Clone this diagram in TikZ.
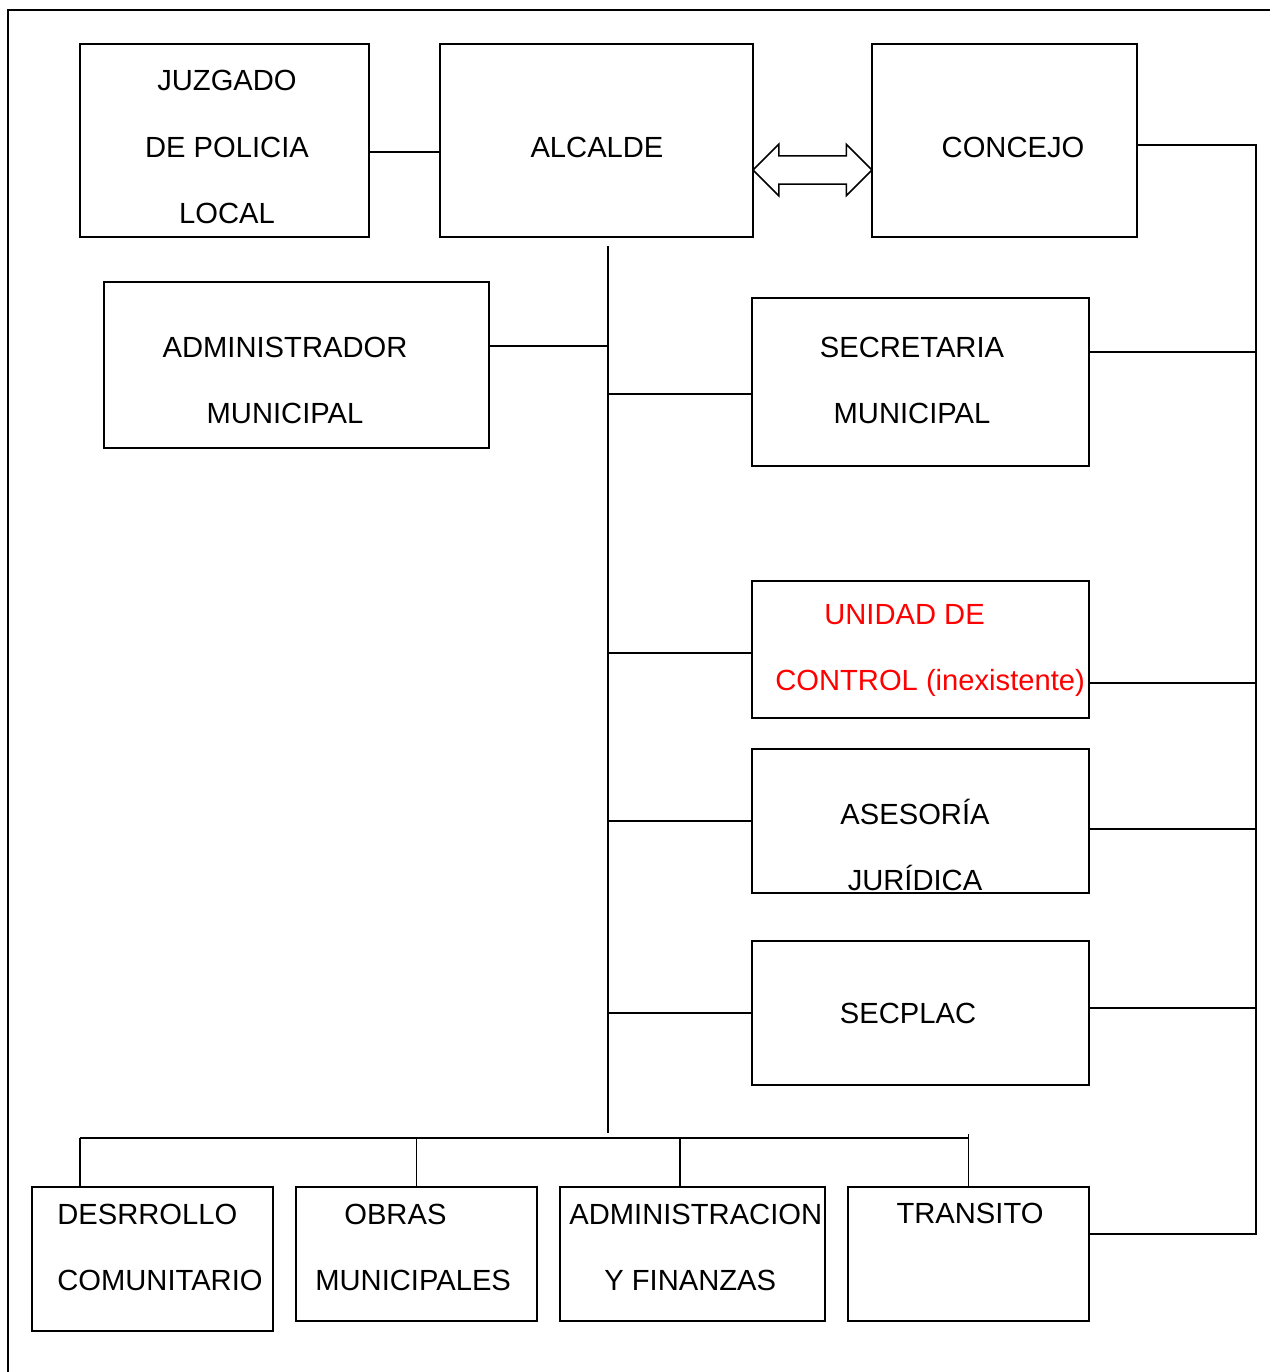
\documentclass[tikz,border=0pt]{standalone}
\usepackage{fontspec}
\setmainfont{Liberation Sans}
\usepackage{tikz}
\usepackage{xcolor}
\usetikzlibrary{shapes.arrows, fit}
\definecolor{inexred}{RGB}{255, 0, 0}
\tikzstyle{unit} = [rectangle, draw=black, line width=0.85pt, inner sep=0pt]
\tikzstyle{unittext} = [align=center, inner sep=0pt, font=\fontsize{16.6pt}{37.6pt}\selectfont]
\tikzstyle{orgline} = [line width=0.85pt]

\begin{document}
\begin{tikzpicture}[x=0.02cm, y=-0.02cm]
\useasboundingbox (0,0) rectangle (1270,1372);

% frame (open at right and bottom)
\draw [orgline] (8,1372) -- (8,10) -- (1270,10);

% top row
\node (juzgado) [unit, fit={(80,44) (369,237)}] {};
\node (alcalde) [unit, fit={(440,44) (753,237)}] {};
\node (concejo) [unit, fit={(872,44) (1137,237)}] {};
\node (juzgadoT) [unittext] at (227,147) {JUZGADO\\DE POLICIA\\LOCAL};
\node (alcaldeT) [unittext] at (597,147) {ALCALDE};
\node (concejoT) [unittext] at (1013,147) {CONCEJO};
\node (enlace) [double arrow, draw, line width=0.85pt, inner xsep=0pt, inner ysep=0.27cm, double arrow head extend=0.23cm, minimum height=2.38cm] at (812.5,170) {};

% staff units
\node (admin) [unit, fit={(104,282) (489,448)}] {};
\node (secret) [unit, fit={(752,298) (1089,466)}] {};
\node (control) [unit, fit={(752,581) (1089,718)}] {};
\node (asesoria) [unit, fit={(752,749) (1089,893)}] {};
\node (secplac) [unit, fit={(752,941) (1089,1085)}] {};
\node (adminT) [unittext] at (285,380) {ADMINISTRADOR\\MUNICIPAL};
\node (secretT) [unittext] at (912,380) {SECRETARIA\\MUNICIPAL};
\node (controlT) [unittext, align=left, anchor=west, text=inexred] at (775,650.5) {\hspace*{0.98cm}UNIDAD DE\\CONTROL (inexistente)};
\node (asesoriaT) [unittext] at (915,845) {ASESORÍA\\JURÍDICA};
\node (secplacT) [unittext] at (908,1013) {SECPLAC};

% departments
\node (desarrollo) [unit, fit={(32,1187) (273,1331)}] {};
\node (obras) [unit, fit={(296,1187) (537,1321)}] {};
\node (finanzas) [unit, fit={(560,1187) (825,1321)}] {};
\node (transito) [unit, fit={(848,1187) (1089,1321)}] {};
\node (desarrolloT) [unittext, align=left, anchor=west] at (57,1247) {DESRROLLO\\COMUNITARIO};
\node (obrasT) [unittext, align=left, anchor=west] at (315,1247) {\hspace*{0.58cm}OBRAS\\MUNICIPALES};
\node (finanzasT) [unittext, align=left, anchor=west] at (569,1247) {ADMINISTRACION\\\hspace*{0.7cm}Y FINANZAS};
\node (transitoT) [unittext] at (970,1213) {TRANSITO};

% trunk and buses
\coordinate (ttop) at (608,246);
\coordinate (tbot) at (608,1133);
\coordinate (bl) at (80,1138);
\coordinate (br) at (968,1138);
\coordinate (rtop) at (1256,145);
\coordinate (rbot) at (1256,1234);

\draw [orgline] (juzgado.east |- 0,152) -- (alcalde.west |- 0,152);
\draw [orgline] (ttop) -- (tbot);
\draw [orgline] (admin.east |- 0,346) -- (ttop |- 0,346);
\draw [orgline] (ttop |- 0,394) -- (secret.west |- 0,394);
\draw [orgline] (ttop |- 0,653) -- (control.west |- 0,653);
\draw [orgline] (ttop |- 0,821) -- (asesoria.west |- 0,821);
\draw [orgline] (ttop |- 0,1013) -- (secplac.west |- 0,1013);

% bottom bus
\draw [orgline] (bl) -- (br);
\draw [orgline] (bl) -- (desarrollo.north -| bl);
\draw [orgline] (obras.north |- bl) -- (obras.north);
\draw [orgline] (680,1138) -- (finanzas.north -| 680,0);
\draw [orgline] (transito.north |- 0,1134) -- (transito.north);

% right bus
\draw [orgline] (concejo.east |- rtop) -- (rtop) -- (rbot) -- (transito.east |- rbot);
\draw [orgline] (secret.east |- 0,352) -- (rtop |- 0,352);
\draw [orgline] (control.east |- 0,683) -- (rtop |- 0,683);
\draw [orgline] (asesoria.east |- 0,829) -- (rtop |- 0,829);
\draw [orgline] (secplac.east |- 0,1008) -- (rtop |- 0,1008);

\end{tikzpicture}
\end{document}
